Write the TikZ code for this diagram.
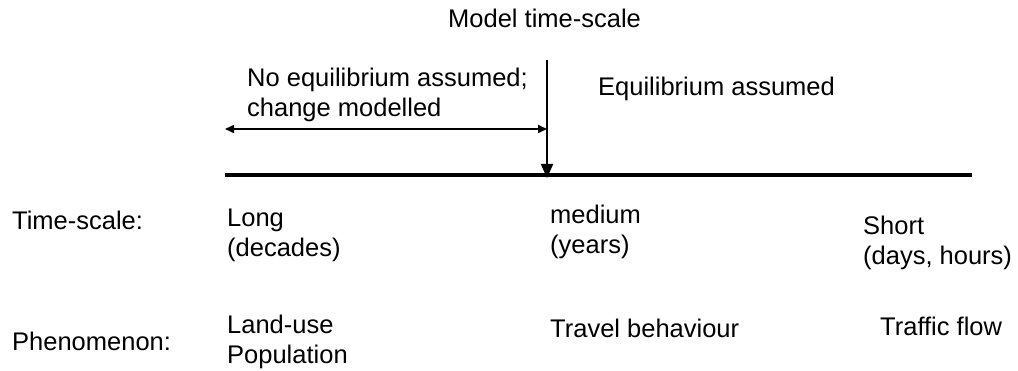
\documentclass[tikz,border=0pt]{standalone}
\usepackage{fontspec}
\setmainfont{Liberation Sans}
\usetikzlibrary{arrows.meta}
\begin{document}
\begin{tikzpicture}[x=1pt,y=-1pt,
  lbl/.style={inner sep=0pt,anchor=base west,align=left,
    font=\fontsize{25.5}{30}\selectfont},
  axisline/.style={line width=4pt},
  pointer/.style={line width=2pt,-{Triangle[length=14pt,width=12pt]}},
  span/.style={line width=1.6pt,{Triangle[length=9pt,width=8pt]}-{Triangle[length=9pt,width=8pt]}}]
\useasboundingbox (0,0) rectangle (1018,371);

% time axis and the marker for the model time-scale
\coordinate (axL) at (225,175);
\coordinate (axR) at (972,175);
\coordinate (mtop) at (547,60);
\coordinate (mtip) at (547,178);
\coordinate (spanL) at (225,129);
\coordinate (spanR) at (547,129);

\draw[axisline] (axL) -- (axR);
\draw[pointer] (mtop) -- (mtip);
\draw[span] (spanL) -- (spanR);

% headings (multi-line nodes are placed by the baseline of their last line)
\node[lbl] (model) at (448,28) {Model time-scale};
\node[lbl] (noeq) at (247,117) {No equilibrium assumed;\\change modelled};
\node[lbl] (eq) at (598,96) {Equilibrium assumed};

% rows
\node[lbl] (tsrow) at (12,230) {Time-scale:};
\node[lbl] (long) at (227,257) {Long\\(decades)};
\node[lbl] (medium) at (550,254) {medium\\(years)};
\node[lbl] (short) at (863,265) {Short\\(days, hours)};

\node[lbl] (phrow) at (12,351) {Phenomenon:};
\node[lbl] (land) at (227,364) {Land-use\\Population};
\node[lbl] (travel) at (550,338) {Travel behaviour};
\node[lbl] (traffic) at (880,336) {Traffic flow};
\end{tikzpicture}
\end{document}
